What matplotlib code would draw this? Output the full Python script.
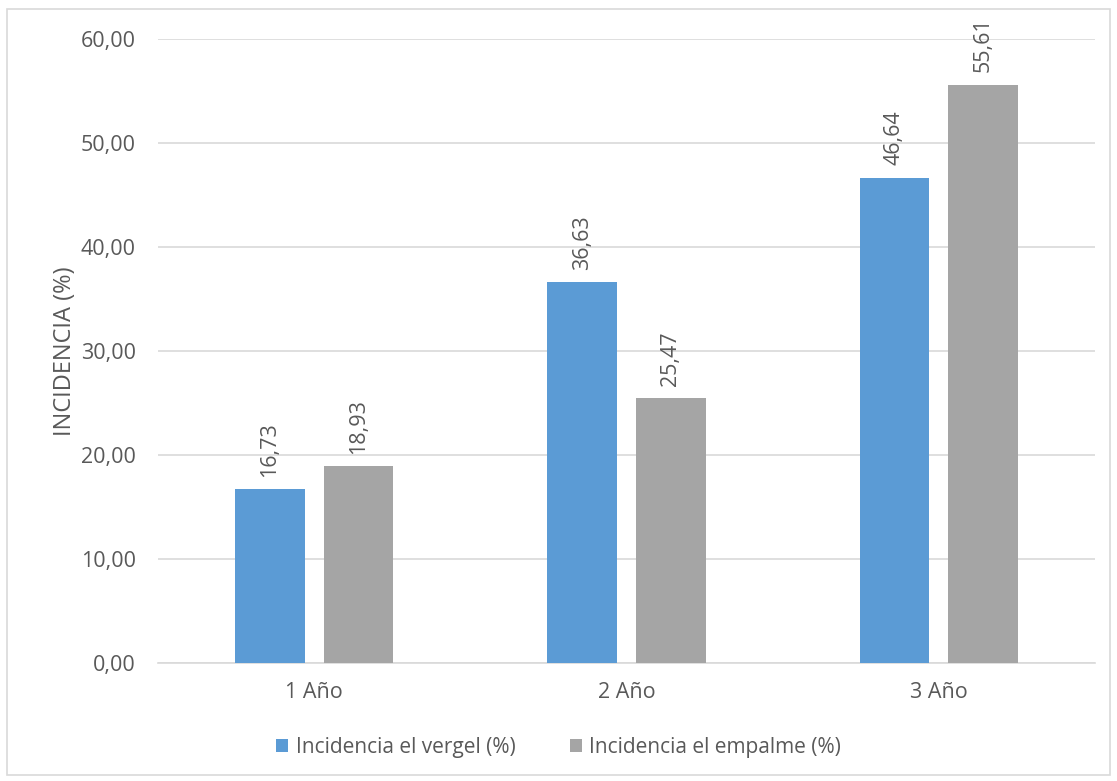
import matplotlib
matplotlib.use("Agg")
import matplotlib.pyplot as plt
from matplotlib.patches import Rectangle
import numpy as np

categories = ["1 Año", "2 Año", "3 Año"]
series_names = ["Incidencia el vergel (%)", "Incidencia el empalme (%)"]
vergel = [16.73, 36.63, 46.64]
empalme = [18.93, 25.47, 55.61]
yticks = [0, 10, 20, 30, 40, 50, 60]

plt.rcParams['font.family'] = ['Open Sans', 'DejaVu Sans']
txt = '#595959'

fig = plt.figure(figsize=(11.17, 7.81), dpi=100)
W, H = 1117, 781
ax = fig.add_axes([158 / W, 1 - 663 / H, (1095 - 158) / W, (663 - 39) / H])

x = np.arange(len(categories))
bw = 0.224
off = 0.142
b1 = ax.bar(x - off, vergel, bw, color='#5B9BD5', label=series_names[0], zorder=3)
b2 = ax.bar(x + off, empalme, bw, color='#A5A5A5', label=series_names[1], zorder=3)

for bars, vals in ((b1, vergel), (b2, empalme)):
    for r, v in zip(bars, vals):
        ax.annotate(f"{v:.2f}".replace('.', ','), (r.get_x() + r.get_width() / 2, v),
                    xytext=(0, 9), textcoords='offset points', rotation=90,
                    ha='center', va='bottom', fontsize=15.5, color=txt)

ax.set_xlim(-0.5, 2.5)
ax.set_ylim(0, 60)
ax.set_yticks(yticks)
ax.set_yticklabels([f"{t:.2f}".replace('.', ',') for t in yticks])
ax.set_xticks(x)
ax.set_xticklabels(categories)
ax.tick_params(axis='both', length=0, labelsize=15.5, colors=txt)
ax.tick_params(axis='y', pad=16)
ax.tick_params(axis='x', pad=14)
ax.grid(axis='y', color='#D9D9D9', linewidth=1.2, zorder=0)
for s in ['top', 'right', 'left']:
    ax.spines[s].set_visible(False)
ax.spines['bottom'].set_color('#D9D9D9')
ax.spines['bottom'].set_linewidth(1.2)
ax.set_ylabel("INCIDENCIA (%)", fontsize=17, color=txt, labelpad=3)

leg = fig.legend(handles=[b1, b2], labels=series_names, loc='center', bbox_to_anchor=(0.5, 1 - 747 / H),
                 ncol=2, frameon=False, fontsize=15, handlelength=0.6, handleheight=0.6,
                 handletextpad=0.35, columnspacing=2.6, labelcolor=txt)

fig.patches.append(Rectangle((7 / W, 6 / H), (1110 - 7) / W, (772 - 6) / H, transform=fig.transFigure,
                             fill=False, edgecolor='#D9D9D9', linewidth=1.2))

fig.savefig("out.png", dpi=100)
